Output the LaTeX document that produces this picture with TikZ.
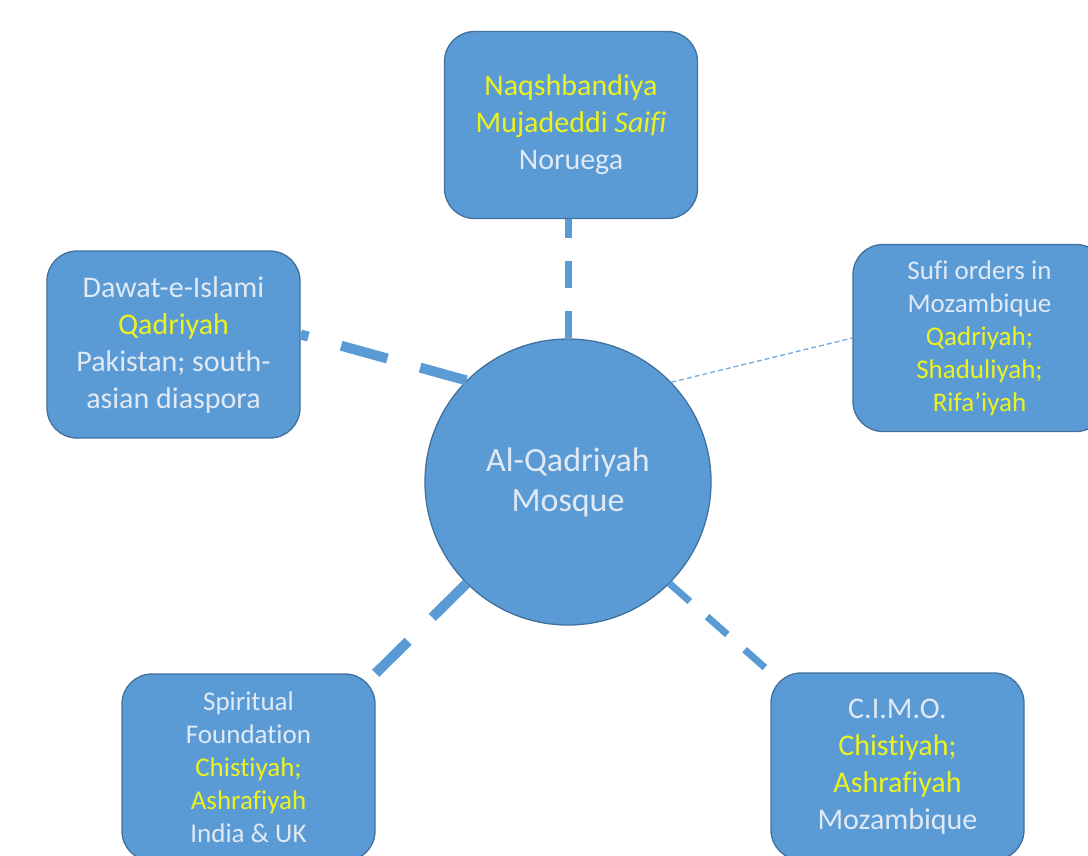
\documentclass[tikz,border=0pt]{standalone}
\usepackage{fontspec}
\setmainfont[Ligatures=NoCommon]{Carlito}
\definecolor{boxfill}{HTML}{5B9BD5}
\definecolor{boxline}{HTML}{41719C}
\definecolor{lt}{RGB}{224,233,244}
\definecolor{yl}{RGB}{236,242,30}
\tikzset{
  orgbox/.style={draw=boxline, line width=1.3pt, fill=boxfill, rounded corners=30pt,
    minimum width=253pt, minimum height=187pt, inner sep=0pt, align=center, text=lt},
  big/.style={font=\fontsize{30}{37}\selectfont},
  small/.style={font=\fontsize{27}{33}\selectfont},
  thickdash/.style={draw=boxfill, line width=10pt, dash pattern=on 48pt off 34pt},
  meddash/.style={draw=boxfill, line width=7pt, dash pattern=on 27pt off 23pt},
  thindash/.style={draw=boxfill!85, line width=1.3pt, dash pattern=on 5pt off 3pt}
}
\begin{document}
\begin{tikzpicture}[x=1pt,y=-1pt]
\clip (0,0) rectangle (1088,855);
\fill[white] (0,0) rectangle (1088,855);

\node[orgbox, big] (top) at (571,125) {\color{yl}Naqshbandiya\\ \color{yl}Mujadeddi \textit{Saifi}\\ Noruega};
\node[orgbox, big] (left) at (173.5,344.5) {Dawat-e-Islami\\ \color{yl}Qadriyah\\ Pakistan; south-\\ asian diaspora};
\node[orgbox, small] (right) at (979.5,338) {Sufi orders in\\ Mozambique\\ \color{yl}Qadriyah;\\ \color{yl}Shaduliyah;\\ \color{yl}Rifa’iyah};
\node[orgbox, small] (bl) at (248.5,767.5) {Spiritual\\ Foundation\\ \color{yl}Chistiyah;\\ \color{yl}Ashrafiyah\\ India \& UK};
\node[orgbox, big] (br) at (897.5,766.5) {C.I.M.O.\\ \color{yl}Chistiyah;\\ \color{yl}Ashrafiyah\\ Mozambique};
\node[circle, draw=boxline, line width=1.3pt, fill=boxfill, minimum size=286pt, inner sep=0pt,
  align=center, text=lt, font=\fontsize{34}{40}\selectfont] (circ) at (568,482) {Al-Qadriyah\\ Mosque};

\draw[meddash] (circ.north) -- (circ.north |- top.south);
\draw[thickdash] (circ.135) -- ([yshift=10pt]left.east);
\draw[thindash] (circ.44) -- (right.west);
\draw[thickdash] (circ.225) -- (bl.north east);
\draw[meddash] (circ.-45) -- (br.north west);
\end{tikzpicture}
\end{document}
